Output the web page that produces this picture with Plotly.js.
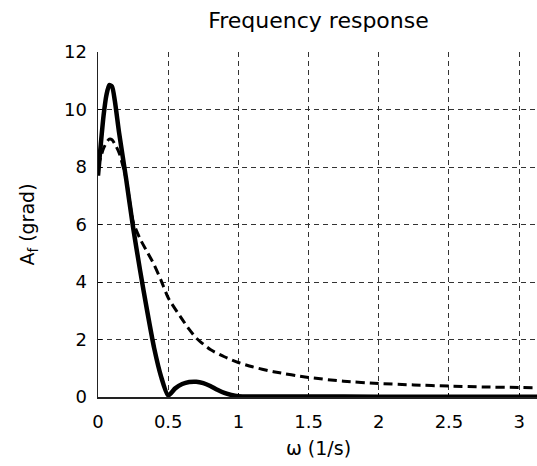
<!DOCTYPE html>
<html>
<head>
<meta charset="utf-8">
<script src="https://cdn.plot.ly/plotly-3.0.1.min.js"></script>
<style>
html,body{margin:0;padding:0;overflow:hidden;background:#fff;}
#chart{width:545px;height:466px;}
</style>
</head>
<body>
<div id="chart"></div>
<script>
// Solid (thick) curve
var omegaSolid = [0, 0.02, 0.04, 0.06, 0.08, 0.1, 0.12, 0.15, 0.2, 0.25, 0.3, 0.35, 0.4, 0.45, 0.5, 0.55, 0.6, 0.65, 0.7, 0.75, 0.8, 0.85, 0.9, 0.95, 1.0, 1.1, 1.5, 2.0, 2.5, 3.1416];
var ampSolid   = [7.7, 8.8, 9.8, 10.5, 10.85, 10.8, 10.3, 9.2, 7.6, 5.9, 4.4, 3.0, 1.7, 0.7, 0.05, 0.3, 0.45, 0.52, 0.53, 0.48, 0.38, 0.25, 0.14, 0.07, 0.03, 0.02, 0.02, 0.01, 0.01, 0.01];
// Dashed curve
var omegaDash = [0, 0.02, 0.04, 0.06, 0.08, 0.1, 0.12, 0.15, 0.2, 0.25, 0.3, 0.35, 0.4, 0.45, 0.5, 0.6, 0.65, 0.7, 0.8, 0.9, 1.0, 1.1, 1.25, 1.5, 1.75, 2.0, 2.25, 2.5, 2.75, 3.0, 3.1416];
var ampDash   = [8.0, 8.35, 8.65, 8.85, 8.97, 8.95, 8.8, 8.5, 7.6, 6.1, 5.5, 5.05, 4.6, 4.05, 3.45, 2.7, 2.35, 2.05, 1.65, 1.4, 1.2, 1.05, 0.88, 0.68, 0.55, 0.47, 0.42, 0.38, 0.35, 0.33, 0.32];
var xTicks = [0, 0.5, 1, 1.5, 2, 2.5, 3];
var xTickLabels = ['0', '0.5', '1', '1.5', '2', '2.5', '3'];
var yTicks = [0, 2, 4, 6, 8, 10, 12];
var yTickLabels = ['0', '2', '4', '6', '8', '10', '12'];

var font = 'DejaVu Sans, Arial, sans-serif';

var traces = [
  {x: omegaDash, y: ampDash, mode: 'lines', line: {color: '#000', width: 3, dash: '9px,5px', shape: 'spline', smoothing: 0.6}, hoverinfo: 'skip'},
  {x: omegaSolid, y: ampSolid, mode: 'lines', line: {color: '#000', width: 4.5, shape: 'spline', smoothing: 0.6}, hoverinfo: 'skip'}
];

var layout = {
  width: 545, height: 466,
  margin: {l: 98, r: 6, t: 52, b: 69},
  paper_bgcolor: '#fff', plot_bgcolor: '#fff',
  showlegend: false,
  font: {family: font, size: 18, color: '#000'},
  title: {text: 'Frequency response', font: {family: font, size: 22, color: '#000'}, x: 0.5, xref: 'paper', y: 0.957, yanchor: 'middle'},
  xaxis: {
    range: [0, 3.1416], tickvals: xTicks, ticktext: xTickLabels,
    showgrid: true, gridcolor: '#333', gridwidth: 1, griddash: '5px,4px',
    zeroline: false, showline: true, linecolor: '#222', linewidth: 1.5,
    ticks: 'inside', ticklen: 4, tickcolor: '#000',
    tickfont: {family: font, size: 18},
    ticklabelstandoff: 8,
    title: {text: 'ω (1/s)', font: {family: font, size: 19}, standoff: 10}
  },
  yaxis: {
    range: [0, 12], tickvals: yTicks, ticktext: yTickLabels,
    showgrid: true, gridcolor: '#333', gridwidth: 1, griddash: '5px,4px',
    zeroline: false, showline: true, linecolor: '#222', linewidth: 1.5,
    ticks: 'inside', ticklen: 4, tickcolor: '#000',
    tickfont: {family: font, size: 18},
    ticklabelstandoff: 6,
    title: {text: 'A<sub>f</sub> (grad)', font: {family: font, size: 19}, standoff: 24}
  }
};

Plotly.newPlot('chart', traces, layout, {staticPlot: true, displayModeBar: false});
</script>
</body>
</html>
